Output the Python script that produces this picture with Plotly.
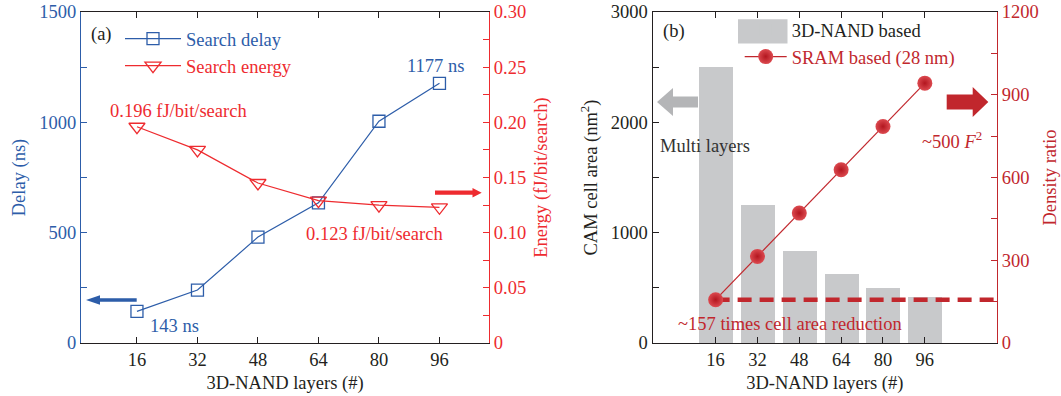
import plotly.graph_objects as go

# ---------------- data ----------------
layers = [16, 32, 48, 64, 80, 96]
delay_ns = [143, 240, 480, 635, 1005, 1177]
energy_fj = [0.196, 0.175, 0.145, 0.129, 0.125, 0.123]
nand_area_nm2 = [2500, 1250, 833, 625, 500, 417]
density_ratio = [157, 314, 471, 628, 785, 942]

delay_ticks = [0, 500, 1000, 1500]
energy_ticks = [0, 0.05, 0.10, 0.15, 0.20, 0.25, 0.30]
energy_ticktext = ["0", "0.05", "0.10", "0.15", "0.20", "0.25", "0.30"]
area_ticks = [0, 1000, 2000, 3000]
ratio_ticks = [0, 300, 600, 900, 1200]

# ---------------- style ----------------
W, H = 1061, 396
FONT = "Liberation Serif"
FS = 18.5
BLUE = "#2D5DA9"
RED = "#EE2B2F"
DRED = "#C1272D"
GRAY = "#C8C9CB"
AGRAY = "#B4B5B7"
BLACK = "#231F20"


def px(x):
    return x / W


def py(y):
    return 1 - y / H


XA = [81 / W, 489 / W]
XB = [652.6 / W, 997 / W]
YD = [53 / H, 384 / H]
XA_RANGE = [1.2, 109.1]
XB_RANGE = [-8.1, 123.6]

fig = go.Figure()

fig.add_trace(go.Scatter(
    x=layers, y=delay_ns, xaxis="x", yaxis="y", mode="lines+markers",
    name="Search delay", legend="legend",
    line=dict(color=BLUE, width=1.2),
    marker=dict(symbol="square-open", size=12, color=BLUE, line=dict(width=1.3)),
))
fig.add_trace(go.Scatter(
    x=layers, y=energy_fj, xaxis="x", yaxis="y2", mode="lines+markers",
    name=f"<span style='color:{RED}'>Search energy</span>", legend="legend",
    line=dict(color=RED, width=1.2),
    marker=dict(symbol="triangle-down-open", size=14, color=RED, line=dict(width=1.3)),
))
fig.add_trace(go.Bar(
    x=layers, y=nand_area_nm2, xaxis="x2", yaxis="y3", width=13,
    name="3D-NAND based", legend="legend2",
    marker=dict(color=GRAY, line=dict(width=0)),
))
fig.add_trace(go.Scatter(
    x=[layers[0], XB_RANGE[1]], y=[density_ratio[0], density_ratio[0]],
    xaxis="x2", yaxis="y4", mode="lines", showlegend=False,
    line=dict(color=DRED, width=4.5, dash="14px,8px"),
))
fig.add_trace(go.Scatter(
    x=layers, y=density_ratio, xaxis="x2", yaxis="y4", mode="lines+markers",
    name=f"<span style='color:{DRED}'>SRAM based (28 nm)</span>", legend="legend2",
    line=dict(color=DRED, width=1.2),
    marker=dict(symbol="circle", size=15, color="#DC4A50",
                gradient=dict(type="radial", color="#B3161F"),
                line=dict(width=0)),
))

tickfont = lambda c: dict(family=FONT, size=FS, color=c)
common_x = dict(ticks="inside", ticklen=6, tickwidth=1, showline=True, linewidth=1.2,
                linecolor=BLACK, tickcolor=BLACK, mirror="ticks", showgrid=False,
                zeroline=False, tickvals=layers, tickfont=tickfont(BLACK), automargin=False,
                title=dict(text="3D-NAND layers (#)", font=tickfont(BLACK), standoff=6))


def yax(color, **kw):
    d = dict(ticks="inside", ticklen=6, tickwidth=1, showline=True, linewidth=1.2,
             linecolor=color, tickcolor=color, showgrid=False, zeroline=False,
             tickfont=tickfont(color), domain=YD, automargin=False)
    d.update(kw)
    return d


fig.update_layout(
    width=W, height=H, autosize=False,
    margin=dict(l=0, r=0, t=0, b=0, autoexpand=False),
    paper_bgcolor="white", plot_bgcolor="white",
    font=dict(family=FONT, size=FS, color=BLACK),
    bargap=0,
    xaxis=dict(domain=XA, anchor="y", range=XA_RANGE, **common_x),
    yaxis=yax(BLUE, anchor="x", range=[0, 1500], tickvals=delay_ticks,
              minor=dict(tickvals=[250, 750, 1250], ticks="inside", ticklen=6, tickcolor=BLUE),
              title=dict(text="Delay (ns)", font=tickfont(BLUE), standoff=8)),
    yaxis2=yax(RED, anchor="x", overlaying="y", side="right", range=[0, 0.30],
               tickvals=energy_ticks, ticktext=energy_ticktext,
               minor=dict(tickvals=[0.025, 0.075, 0.125, 0.175, 0.225, 0.275],
                          ticks="inside", ticklen=6, tickcolor=RED),
               title=dict(text="Energy (fJ/bit/search)", font=tickfont(RED), standoff=8)),
    xaxis2=dict(domain=XB, anchor="y3", range=XB_RANGE, **common_x),
    yaxis3=yax(BLACK, anchor="x2", range=[0, 3000], tickvals=area_ticks,
               minor=dict(tickvals=[500, 1500, 2500], ticks="inside", ticklen=6, tickcolor=BLACK),
               title=dict(text="CAM cell area (nm<sup>2</sup>)", font=tickfont(BLACK), standoff=8)),
    yaxis4=yax(DRED, anchor="x2", overlaying="y3", side="right", range=[0, 1200],
               tickvals=ratio_ticks,
               minor=dict(tickvals=[150, 450, 750, 1050], ticks="inside", ticklen=6, tickcolor=DRED),
               title=dict(text="Density ratio", font=tickfont(DRED), standoff=5)),
    legend=dict(x=px(120), y=py(20), xanchor="left", yanchor="top",
                bgcolor="rgba(0,0,0,0)", font=dict(family=FONT, size=FS, color=BLUE),
                itemwidth=56, tracegroupgap=0),
    legend2=dict(x=px(739.7), y=py(11), xanchor="left", yanchor="top",
                 bgcolor="rgba(0,0,0,0)", font=dict(family=FONT, size=FS, color=BLACK),
                 itemwidth=42, tracegroupgap=0),
    showlegend=True,
)


def block_arrow(tip, base, tail, yc, sh, hh, color):
    # horizontal block arrow in pixel coords converted to paper coords
    pts = [(tail, yc - sh / 2), (base, yc - sh / 2), (base, yc - hh / 2), (tip, yc),
           (base, yc + hh / 2), (base, yc + sh / 2), (tail, yc + sh / 2)]
    path = "M " + " L ".join(f"{px(x):.5f},{py(y):.5f}" for x, y in pts) + " Z"
    return dict(type="path", xref="paper", yref="paper", path=path,
                fillcolor=color, line=dict(width=0), layer="above")


shapes = [
    block_arrow(86, 100, 136.7, 300, 3.5, 9.5, BLUE),
    block_arrow(481.7, 472.5, 435, 192.7, 4.3, 9.5, RED),
    block_arrow(657, 673, 698, 102, 11, 28, AGRAY),
    block_arrow(988.3, 972.7, 946.7, 102, 15, 30, DRED),
    # enlarged legend swatch for bar entry
    dict(type="rect", xref="paper", yref="paper", x0=px(738), x1=px(787.5),
         y0=py(43.5), y1=py(19.3), fillcolor=GRAY, line=dict(width=0), layer="above"),
]
fig.update_layout(shapes=shapes)


def note(text, x, y, color, size=FS):
    return dict(text=text, xref="paper", yref="paper", x=px(x), y=py(y),
                xanchor="center", yanchor="middle", showarrow=False,
                font=dict(family=FONT, size=size, color=color))


fig.update_layout(annotations=[
    note("(a)", 101, 34, BLACK),
    note("1177 ns", 435, 66, BLUE),
    note("0.196 fJ/bit/search", 178, 111, RED),
    note("0.123 fJ/bit/search", 374, 234, RED),
    note("143 ns", 174, 326, BLUE),
    note("(b)", 674, 32, BLACK),
    note("Multi layers", 705, 146, "#333333"),
    note("~500 <i>F</i><sup>2</sup>", 952, 140, DRED),
    note("~157 times cell area reduction", 790, 324, DRED),
])

fig.write_html("out.html", config={"displayModeBar": False},
               post_script="document.body.style.margin='0';document.body.style.padding='0';")
